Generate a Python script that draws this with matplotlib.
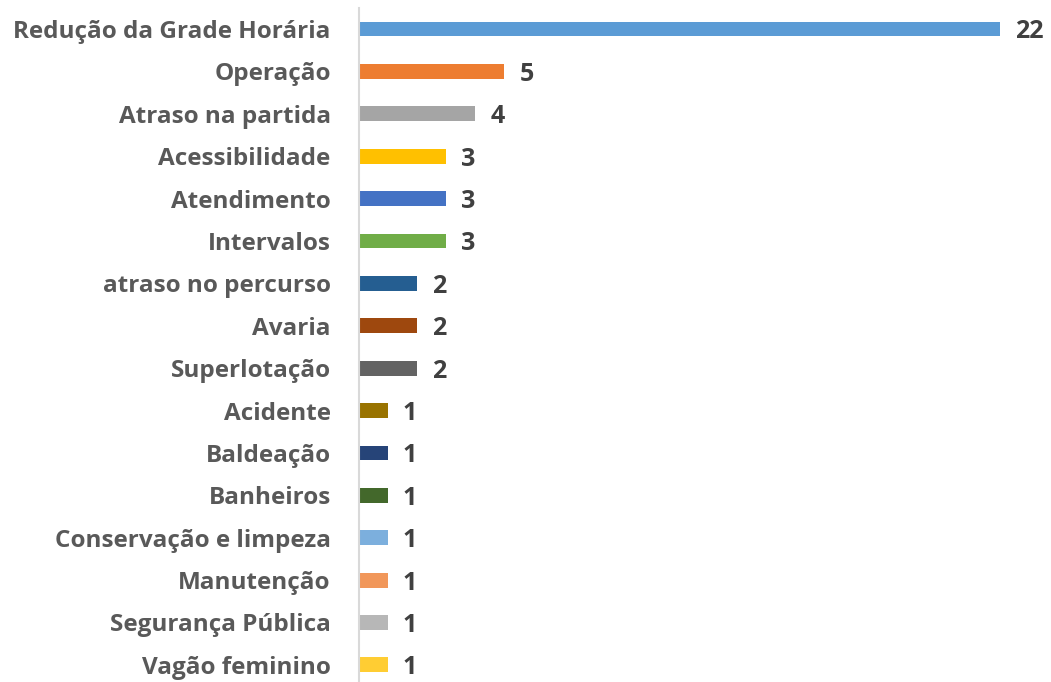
import matplotlib.pyplot as plt

categories = ["Redução da Grade Horária", "Operação", "Atraso na partida",
              "Acessibilidade", "Atendimento", "Intervalos", "atraso no percurso",
              "Avaria", "Superlotação", "Acidente", "Baldeação", "Banheiros",
              "Conservação e limpeza", "Manutenção", "Segurança Pública",
              "Vagão feminino"]
values = [22, 5, 4, 3, 3, 3, 2, 2, 2, 1, 1, 1, 1, 1, 1, 1]
colors = ["#5B9BD5", "#ED7D31", "#A5A5A5", "#FFC000", "#4472C4", "#70AD47",
          "#255E91", "#9E480E", "#636363", "#997300", "#264478", "#43682B",
          "#7CAFDD", "#F1975A", "#B7B7B7", "#FFCD33"]

plt.rcParams['font.family'] = ['Open Sans', 'DejaVu Sans']

fig = plt.figure(figsize=(10.51, 6.82), dpi=100)
ax = fig.add_axes([358.5 / 1051, -0.006, (1000 - 358.5) / 1051, 0.9946])

y = list(range(len(categories)))
ax.barh(y, values, height=0.35, color=colors)
ax.set_ylim(len(categories) - 0.5, -0.5)
ax.set_xlim(0, 22)

# value labels to the right of each bar
for yi, v in zip(y, values):
    ax.annotate(str(v), (v, yi), xytext=(11, 0), textcoords='offset points',
                ha='left', va='center_baseline', fontsize=18, fontweight='bold',
                color='#404040', clip_on=False)

ax.set_yticks(y)
ax.set_yticklabels(categories, fontsize=17.5, fontweight='bold', color='#595959')
for lbl in ax.get_yticklabels():
    lbl.set_verticalalignment('center_baseline')
ax.tick_params(axis='y', length=0, pad=20)
ax.set_xticks([])

for s in ['top', 'right', 'bottom']:
    ax.spines[s].set_visible(False)
ax.spines['left'].set_color('#D9D9D9')
ax.spines['left'].set_linewidth(1.5)

fig.savefig('out.png', dpi=100)
